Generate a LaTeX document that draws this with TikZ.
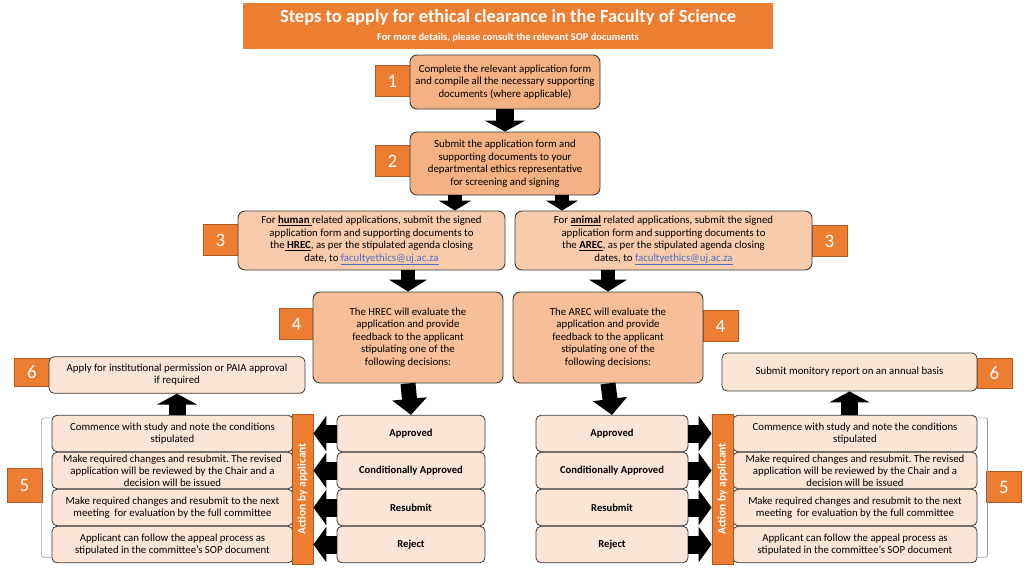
\documentclass[tikz,border=0pt]{standalone}
\usepackage{fontspec}
\setmainfont{Carlito}
\usepackage{graphicx}
\usetikzlibrary{arrows.meta}
\definecolor{orangeA}{HTML}{ED7D31}
\definecolor{orangeD}{HTML}{B05A1E}
\definecolor{peachA}{HTML}{F4B183}
\definecolor{peachB}{HTML}{F8CBAD}
\definecolor{peachC}{HTML}{FBE5D6}
\definecolor{boxline}{HTML}{3A3A3A}
\definecolor{linkblue}{HTML}{4F6FC0}
\newcommand\ujmail{\textcolor{linkblue}{\underline{facultyethics@uj.ac.za}}}
\frenchspacing
\tikzset{numbox/.style={fill=orangeA,draw=orangeD,line width=.8pt,text=white,font=\fontsize{19}{19}\selectfont,minimum width=35pt,minimum height=31pt,inner sep=0pt},
 stepbox/.style={draw=boxline,line width=.9pt,rounded corners=7pt,align=center,inner sep=1pt,font=\fontsize{10.8}{12.6}\selectfont},
 decbox/.style={draw=boxline,line width=.8pt,fill=peachC,rounded corners=5pt,font=\fontsize{10.6}{12}\selectfont\bfseries,minimum height=36.5pt,inner sep=0pt},
 actbox/.style={draw=boxline,line width=.8pt,fill=peachC,rounded corners=5pt,align=center,font=\fontsize{10.8}{12.2}\selectfont,minimum height=36.5pt,inner sep=0pt},
 barbox/.style={fill=orangeA,draw=orangeD,line width=.8pt,text=white,font=\fontsize{11.5}{11.5}\selectfont\bfseries,inner sep=0pt,minimum width=21pt,minimum height=150pt},
 blk/.style={draw=black,line width=16pt,-{Triangle[width=36pt,length=11pt]}},
 brk/.style={draw=black!40,line width=.7pt,rounded corners=2pt}}
\begin{document}
\begin{tikzpicture}[x=1pt,y=-1pt]
 \useasboundingbox (0,0) rectangle (1024,574);
 % heading
 \node[fill=orangeA,minimum width=530pt,minimum height=46pt,text=white,align=center,inner sep=0pt] (title) at (508,26)
  {\fontsize{18.5}{19}\selectfont\bfseries Steps to apply for ethical clearance in the Faculty of Science\\[6pt]
   \fontsize{10.4}{11}\selectfont\bfseries For more details, please consult the relevant SOP documents};
 % steps 1 and 2
 \node[numbox] (n1) at (392.5,81) {1};
 \node[stepbox,fill=peachA,minimum width=190pt,minimum height=54pt] (s1) at (505,82)
  {Complete the relevant application form\\and compile all the necessary supporting\\documents (where applicable)};
 \node[numbox] (n2) at (392.5,161) {2};
 \node[stepbox,fill=peachA,minimum width=190pt,minimum height=63pt] (s2) at (505,163.5)
  {Submit the application form and\\supporting documents to your\\departmental ethics representative\\for screening and signing};
 \draw[blk,line width=18pt,-{Triangle[width=40pt,length=11pt]}] (s1.south) -- (s2.north);
 % step 3
 \node[numbox] (n3l) at (220.5,240) {3};
 \node[stepbox,fill=peachB,minimum width=267pt,minimum height=59pt] (s3l) at (371.5,240.5)
  {For \underline{\textbf{human}\ }related applications, submit the signed\\application form and supporting documents to\\the\underline{\ \textbf{HREC}}, as per the stipulated agenda closing\\date, to \ujmail};
 \node[numbox] (n3r) at (829.5,241) {3};
 \node[stepbox,fill=peachB,minimum width=297pt,minimum height=59pt] (s3r) at (663.5,240.5)
  {For \underline{\textbf{animal}} related applications, submit the signed\\application form and supporting documents to\\the \underline{\textbf{AREC}}, as per the stipulated agenda closing\\dates, to \ujmail};
 \draw[blk,line width=14pt,-{Triangle[width=32pt,length=10pt]}] ([xshift=-50pt]s2.south) -- ([xshift=-50pt]s2.south |- s3l.north);
 \draw[blk,line width=14pt,-{Triangle[width=32pt,length=10pt]}] ([xshift=57pt]s2.south) -- ([xshift=57pt]s2.south |- s3r.north);
 % step 4
 \node[numbox] (n4l) at (296.5,324) {4};
 \node[stepbox,fill=peachA!45!peachB,minimum width=190pt,minimum height=91pt] (s4l) at (408,337.5)
  {The HREC will evaluate the\\application and provide\\feedback to the applicant\\stipulating one of the\\following decisions:};
 \node[numbox] (n4r) at (720.5,326) {4};
 \node[stepbox,fill=peachA!45!peachB,minimum width=190pt,minimum height=91pt] (s4r) at (608,337.5)
  {The AREC will evaluate the\\application and provide\\feedback to the applicant\\stipulating one of the\\following decisions:};
 \draw[blk,line width=14pt,-{Triangle[width=38pt,length=12pt]}] (s3l.south -| s4l.north) -- (s4l.north);
 \draw[blk,line width=14pt,-{Triangle[width=38pt,length=12pt]}] (s3r.south -| s4r.north) -- (s4r.north);
 % decisions and actions
 \foreach \i/\y/\dec/\act in {1/433.5/Approved/{Commence with study and note the conditions\\stipulated},
   2/470.5/Conditionally Approved/{Make required changes and resubmit. The revised\\application will be reviewed by the Chair and a\\decision will be issued},
   3/507.5/Resubmit/{Make required changes and resubmit to the next\\meeting \ for evaluation by the full committee},
   4/544.5/Reject/{Applicant can follow the appeal process as\\stipulated in the committee’s SOP document}}{
  \node[decbox,minimum width=148pt] (dL\i) at (411,\y) {\dec};
  \node[decbox,minimum width=152pt] (dR\i) at (612,\y) {\dec};
  \node[actbox,minimum width=241pt] (aL\i) at (172.5,\y) {\act};
  \node[actbox,minimum width=244pt] (aR\i) at (855,\y) {\act};
 }
 \node[barbox] (barL) at (302.5,489) {\rotatebox{90}{Action by applicant}};
 \node[barbox] (barR) at (722.5,489) {\rotatebox{90}{Action by applicant}};
 \draw[blk,line width=15pt,-{Triangle[width=34pt,length=16pt]}] (s4l.south) -- (dL1.north);
 \draw[blk,line width=15pt,-{Triangle[width=34pt,length=16pt]}] (s4r.south) -- (dR1.north);
 \foreach \i in {1,...,4}{
  \draw[blk,line width=18pt,-{Triangle[width=35pt,length=13pt]}] (dL\i.west) -- (dL\i.west -| barL.east);
  \draw[blk,line width=18pt,-{Triangle[width=35pt,length=13pt]}] (dR\i.east) -- (dR\i.east -| barR.west);
 }
 % step 5
 \node[numbox,minimum height=34pt] (n5l) at (24.5,485) {5};
 \node[numbox] (n5r) at (1004,487) {5};
 \draw[brk] ([yshift=-3pt]aL1.north west) -- ++(-10,0) -- ([xshift=-10pt,yshift=6pt]aL4.south west) -- ([yshift=6pt]aL4.south west);
 \draw[brk] ([yshift=-3pt]aR1.north east) -- ++(10,0) -- ([xshift=10pt,yshift=6pt]aR4.south east) -- ([yshift=6pt]aR4.south east);
 % step 6
 \node[numbox,minimum height=28pt] (n6l) at (32,372) {6};
 \node[actbox,minimum width=256pt] (s6l) at (177,375) {Apply for institutional permission or PAIA approval\\if required};
 \node[numbox,minimum height=30pt] (n6r) at (994.5,373) {6};
 \node[actbox,minimum width=255pt,minimum height=38pt] (s6r) at (849.5,372) {Submit monitory report on an annual basis};
 \draw[blk,line width=17pt,-{Triangle[width=40pt,length=11pt]}] (aL1.north -| s6l.south) -- (s6l.south);
 \draw[blk,line width=17pt,-{Triangle[width=40pt,length=11pt]}] (aR1.north -| s6r.south) -- (s6r.south);
\end{tikzpicture}
\end{document}
